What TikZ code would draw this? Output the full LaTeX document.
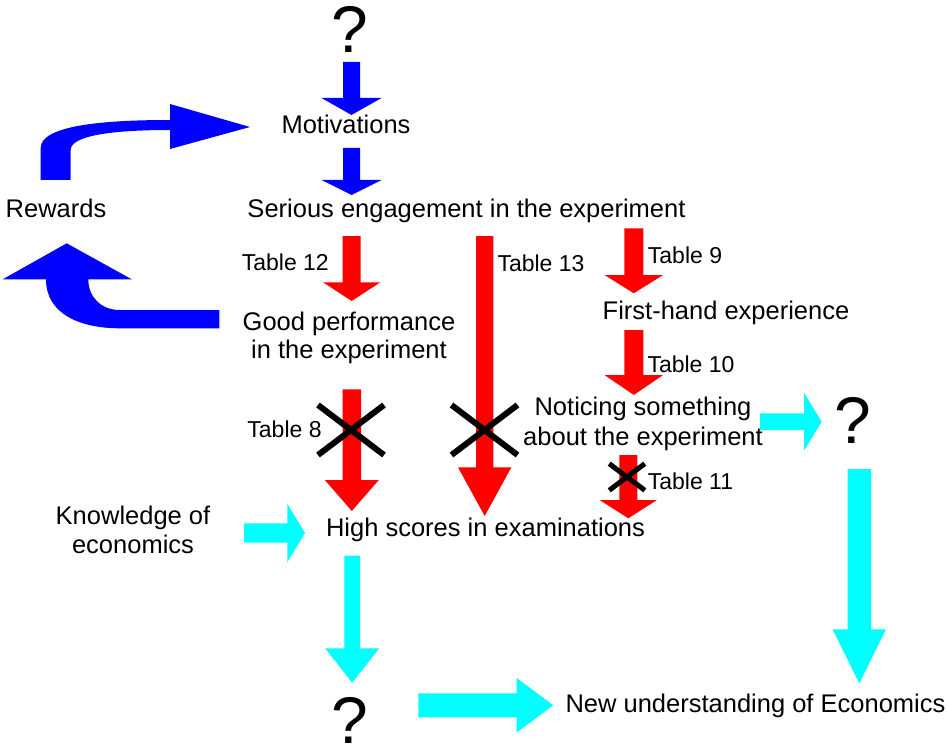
\documentclass[tikz,border=0pt]{standalone}
\usepackage{fontspec}
\setmainfont{Liberation Sans}
\definecolor{arrblue}{RGB}{0,0,255}
\definecolor{arrred}{RGB}{255,0,0}
\definecolor{arrcyan}{RGB}{0,255,255}
% vertical block arrow: colour, x centre, y top, y head base, y tip, shaft half width, head half width
\newcommand\vblk[7]{\fill[#1] ({#2-#6},#3) -- ({#2+#6},#3) -- ({#2+#6},#4) -- ({#2+#7},#4) -- (#2,#5) -- ({#2-#7},#4) -- ({#2-#6},#4) -- cycle;}
% horizontal block arrow: colour, y centre, x tail, x head base, x tip, shaft half width, head half width
\newcommand\hblk[7]{\fill[#1] (#3,{#2-#6}) -- (#4,{#2-#6}) -- (#4,{#2-#7}) -- (#5,#2) -- (#4,{#2+#7}) -- (#4,{#2+#6}) -- (#3,{#2+#6}) -- cycle;}
% cross: x centre, y centre, half width, half height, line width
\newcommand\crs[5]{\draw[line width=#5] ({#1-#3},{#2-#4}) -- ({#1+#3},{#2+#4}) ({#1-#3},{#2+#4}) -- ({#1+#3},{#2-#4});}
\begin{document}
\begin{tikzpicture}[x=1pt,y=-1pt,
  lbl/.style={inner sep=0pt, anchor=base, font=\fontsize{25.5}{30}\selectfont},
  tbl/.style={inner sep=0pt, anchor=base, font=\fontsize{23}{27}\selectfont},
  qm/.style={inner sep=0pt, anchor=base, font=\fontsize{66}{70}\selectfont},
  two/.style={lbl, align=center}]
\useasboundingbox (0,0) rectangle (947,746);

% texts (multi-line nodes: base anchor is the last line's baseline)
\node[qm] (q1) at (350,53) {?};
\node[lbl] (motiv) at (346,134) {Motivations};
\node[lbl] (rew) at (56,218) {Rewards};
\node[lbl] (serious) at (466.5,218) {Serious engagement in the experiment};
\node[tbl] (t12) at (285.3,270) {Table 12};
\node[tbl] (t13) at (541,271) {Table 13};
\node[tbl] (t9) at (685,263) {Table 9};
\node[lbl] (first) at (726,319) {First-hand experience};
\node[two, font=\fontsize{25.5}{28.3}\selectfont] (good) at (349,358.3) {Good performance\\in the experiment};
\node[tbl] (t10) at (691,372) {Table 10};
\node[two] (notice) at (643,445) {Noticing something\\about the experiment};
\node[qm] (q2) at (853,443) {?};
\node[tbl] (t8) at (284.5,437) {Table 8};
\node[tbl] (t11) at (690.5,489) {Table 11};
\node[two, font=\fontsize{25.5}{29.3}\selectfont] (know) at (133,553.3) {Knowledge of\\economics};
\node[lbl] (high) at (485.5,536.7) {High scores in examinations};
\node[qm] (q3) at (350,743) {?};
\node[lbl] (newu) at (755.5,712.7) {New understanding of Economics};

% blue arrows
\vblk{arrblue}{351.5}{62}{98}{115}{8.5}{30}
\vblk{arrblue}{351.5}{148}{180}{195}{8.5}{30}
\fill[arrblue] (40.7,180) -- (40.7,148) .. controls (40.7,126) and (100,120) .. (170,120)
  -- (170,104) -- (250,127) -- (170,149) -- (170,130)
  .. controls (110,130) and (70.7,136) .. (70.7,150) -- (70.7,180) -- cycle;
\fill[arrblue] (219.3,310) -- (120,310) .. controls (100,310) and (88.3,296) .. (88.3,279.3)
  -- (131.7,279.3) -- (66.7,243.3) -- (2.7,279.3) -- (46,279.3)
  .. controls (46,314) and (80,328.3) .. (120,328.3) -- (219.3,328.3) -- cycle;

% red arrows
\vblk{arrred}{351.7}{236}{282.3}{301}{9}{28.7}
\vblk{arrred}{484.7}{236}{467.3}{516}{8.7}{26.7}
\vblk{arrred}{351.8}{389.3}{480}{511}{9.2}{27}
\vblk{arrred}{633.8}{228.3}{275}{293.3}{9.5}{29.3}
\vblk{arrred}{633.8}{330}{375}{395}{9.5}{29.3}
\vblk{arrred}{628.3}{455}{500}{518.3}{9}{28.7}

% crosses
\crs{351}{430}{33}{25}{6pt}
\crs{484.5}{430}{33}{25}{6pt}
\crs{627}{477}{17.8}{13.3}{5pt}

% cyan arrows
\hblk{arrcyan}{421.7}{760}{804}{821.7}{8.3}{29}
\vblk{arrcyan}{859.3}{469}{629.3}{683.3}{11.7}{26.7}
\hblk{arrcyan}{533}{244}{287.3}{305}{9.7}{29.2}
\vblk{arrcyan}{352.2}{555.7}{648.3}{682.7}{7.8}{27}
\hblk{arrcyan}{705.3}{418.3}{516.7}{553.3}{12}{27.2}
\end{tikzpicture}
\end{document}
